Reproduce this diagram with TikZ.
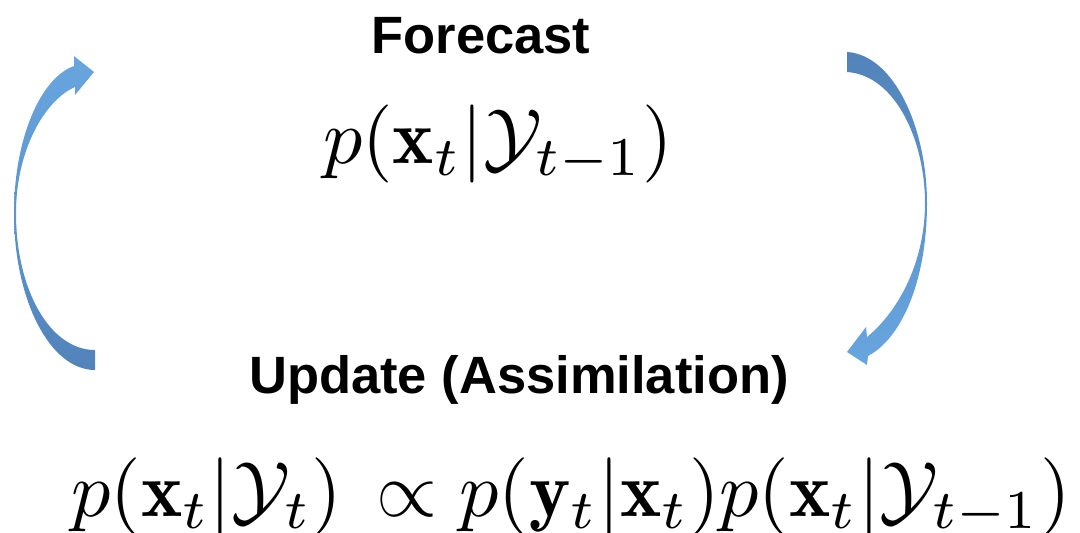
\documentclass[tikz,border=0pt]{standalone}
\usepackage{fontspec}
\usepackage{graphicx}
\newfontfamily\labelfont{Liberation Sans}
\tikzset{
  lbl/.style={font=\labelfont\bfseries\fontsize{52.5}{60}\selectfont, inner sep=0pt, anchor=base},
  eq/.style={inner sep=0pt, anchor=north west},
}
\definecolor{arrowlight}{RGB}{104,166,224}
\definecolor{arrowdark}{RGB}{82,131,187}
\begin{document}
\begin{tikzpicture}[x=1pt,y=-1pt]
\useasboundingbox (0,0) rectangle (1080,533);
% labels
\node[lbl] (forecast) at (481,53) {Forecast};
\node[lbl] (update) at (519,393) {Update (Assimilation)};
\node[eq] (prior) at (323,105) {\resizebox{350pt}{!}{$p(\mathbf{x}_t|\mathcal{Y}_{t-1})$}};
\node[eq] (post) at (71,458) {\resizebox{999pt}{!}{$p(\mathbf{x}_t|\mathcal{Y}_t)\,\propto p(\mathbf{y}_t|\mathbf{x}_t)p(\mathbf{x}_t|\mathcal{Y}_{t-1})$}};
% left curved arrow (update -> forecast)
\shade[top color=arrowlight, bottom color=arrowdark]
  (95,370) .. controls (50,370) and (14,300) .. (14,213)
  .. controls (14,140) and (40,78) .. (74,66)
  -- (74,56) -- (94,72) -- (75,95) -- (75,87)
  .. controls (45,100) and (16,150) .. (16,213)
  .. controls (16,290) and (50,350) .. (95,350) -- cycle;
% right curved arrow (forecast -> update)
\shade[top color=arrowdark, bottom color=arrowlight]
  (847,52) .. controls (895,55) and (927,130) .. (927,203)
  .. controls (927,280) and (902,338) .. (868,356)
  -- (867,365) -- (847,352) -- (866,327) -- (867,337)
  .. controls (900,310) and (925,260) .. (925,203)
  .. controls (925,140) and (895,75) .. (847,72) -- cycle;
\end{tikzpicture}
\end{document}
